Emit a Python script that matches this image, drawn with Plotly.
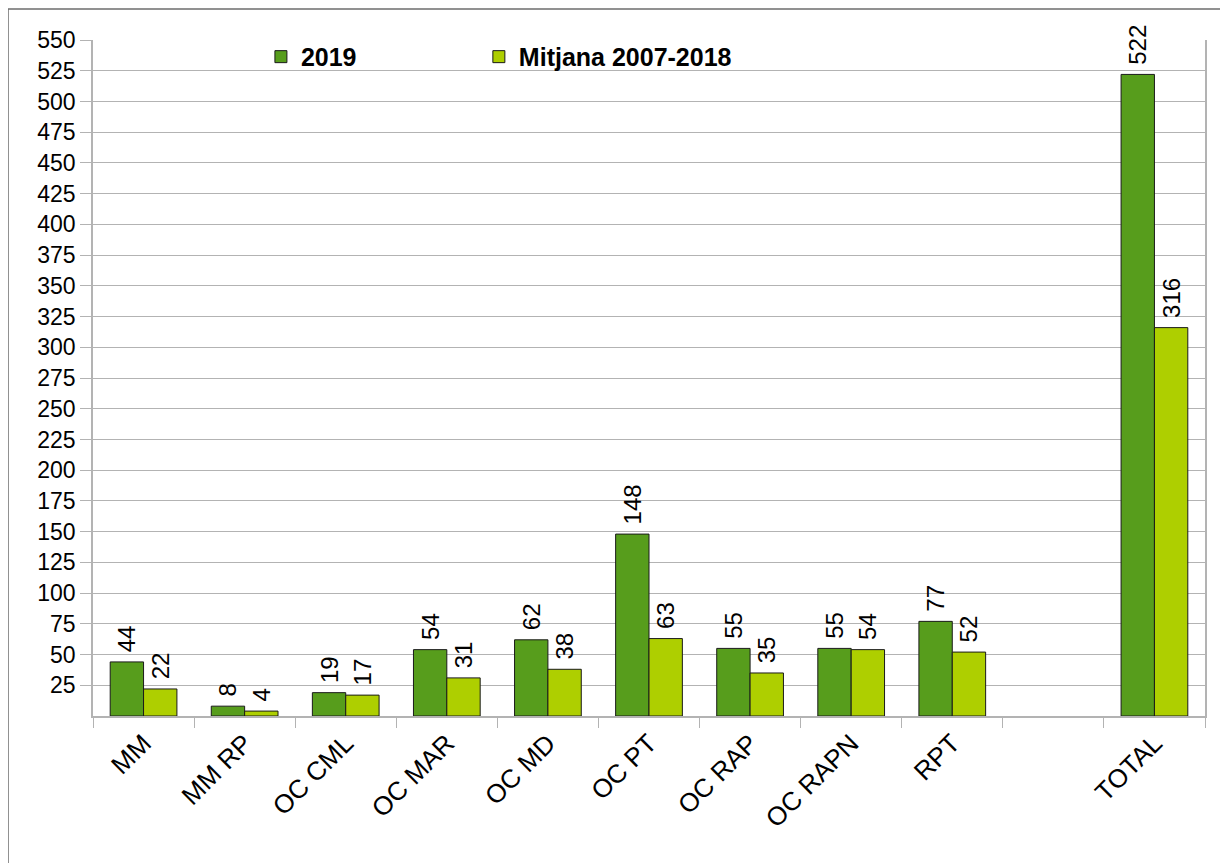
import plotly.graph_objects as go

categories = ["MM", "MM RP", "OC CML", "OC MAR", "OC MD", "OC PT", "OC RAP", "OC RAPN", "RPT", " ", "TOTAL"]
values_2019 = [44, 8, 19, 54, 62, 148, 55, 55, 77, None, 522]
values_mitjana = [22, 4, 17, 31, 38, 63, 35, 54, 52, None, 316]
y_ticks = list(range(25, 551, 25))

# page body has an 8px margin, so the figure is a bit smaller and offset
W, H = 1220, 855
ML, MR, MT, MB = 85, 23, 32, 147
FONT = "Liberation Sans"


def labels(vals):
    return [("" if v is None else "\u00a0" + str(v)) for v in vals]


fig = go.Figure()
fig.add_trace(go.Bar(
    name="2019", x=categories, y=values_2019, legend="legend",
    marker=dict(color="#579D1C", line=dict(color="#1a1a1a", width=1)),
    text=labels(values_2019),
    textposition="outside", textangle=-90, cliponaxis=False, constraintext="none",
    textfont=dict(family=FONT, size=24, color="#000000"),
))
fig.add_trace(go.Bar(
    name="Mitjana 2007-2018", x=categories, y=values_mitjana, legend="legend2",
    marker=dict(color="#AECF00", line=dict(color="#1a1a1a", width=1)),
    text=labels(values_mitjana),
    textposition="outside", textangle=-90, cliponaxis=False, constraintext="none",
    textfont=dict(family=FONT, size=24, color="#000000"),
))

pw = W - ML - MR
ph = H - MT - MB
fig.add_shape(type="rect", xref="paper", yref="paper",
              x0=(0 - ML) / pw, x1=(W + 20 - ML) / pw,
              y0=(H - MB - (H + 20)) / ph, y1=(H - MB - 1) / ph,
              line=dict(color="#6e6e6e", width=1.5), fillcolor="rgba(0,0,0,0)", layer="below")

legend_font = dict(family=FONT, size=25, color="#000000", weight="bold")
fig.update_layout(
    width=W, height=H,
    margin=dict(l=ML, r=MR, t=MT, b=MB, autoexpand=False),
    paper_bgcolor="white", plot_bgcolor="white",
    barmode="group", bargap=0.34, bargroupgap=0,
    font=dict(family=FONT, size=22, color="#000000"),
    showlegend=True,
    legend=dict(orientation="h", x=0.151, y=0.975, xanchor="left", yanchor="middle",
                font=legend_font, bgcolor="rgba(0,0,0,0)"),
    legend2=dict(orientation="h", x=0.347, y=0.975, xanchor="left", yanchor="middle",
                 font=legend_font, bgcolor="rgba(0,0,0,0)"),
    uniformtext=dict(mode=False),
)
fig.update_xaxes(
    type="category", categoryorder="array", categoryarray=categories,
    tickangle=-45, tickson="boundaries", ticks="outside", ticklen=10,
    tickcolor="#b3b3b3", showline=True, linecolor="#b3b3b3", linewidth=1.5,
    showgrid=False, tickfont=dict(family=FONT, size=26, color="#000000"),
)
fig.update_yaxes(
    range=[0, 550], tickvals=y_ticks, ticktext=[str(t) for t in y_ticks],
    ticks="outside", ticklen=11, tickcolor="#b3b3b3",
    showline=True, linecolor="#b3b3b3", linewidth=1.5, mirror=True,
    showgrid=True, gridcolor="#b3b3b3", gridwidth=1,
    zeroline=False, tickfont=dict(family=FONT, size=23, color="#000000"),
)

fig.write_html("out.html")
